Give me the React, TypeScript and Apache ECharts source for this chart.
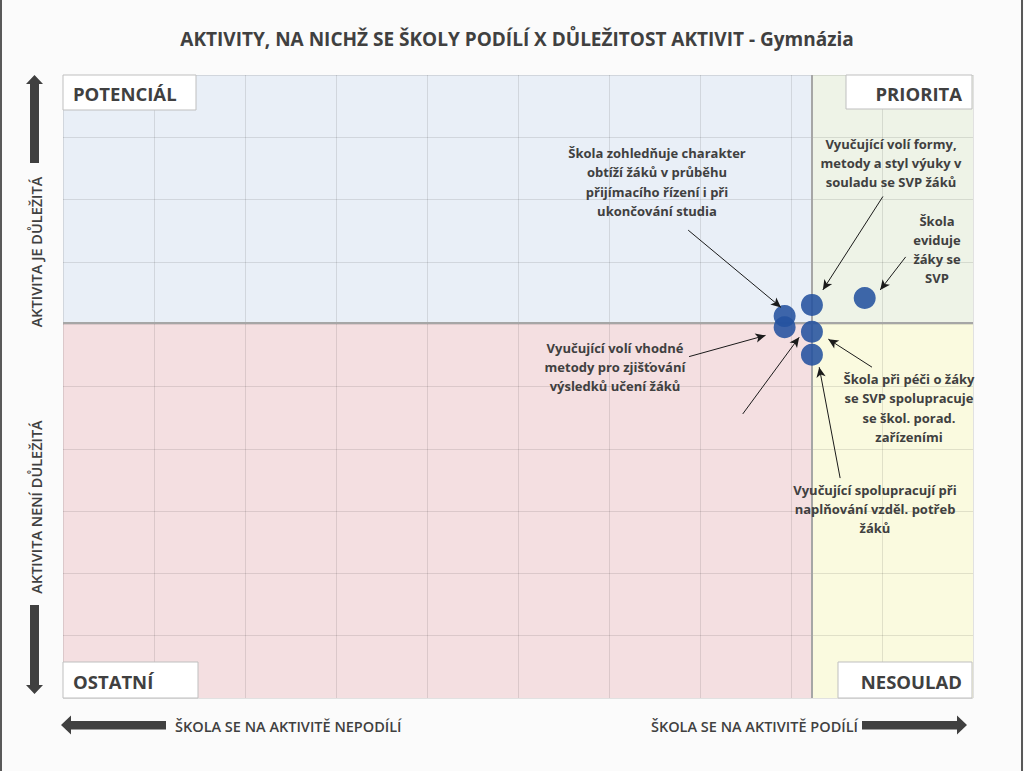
import { useEffect, useRef } from "react";
import * as echarts from "echarts";

// ---------- data ----------
const TITLE = "AKTIVITY, NA NICHŽ SE ŠKOLY PODÍLÍ X DŮLEŽITOST AKTIVIT - Gymnázia";
const X_MIN = 0;
const X_MAX = 100;
const X_STEP = 10;
const Y_MIN = 0;
const Y_MAX = 100;
const Y_STEP = 10;
const X_SPLIT = 82.3; // participation threshold
const Y_SPLIT = 60.3; // importance threshold

const activities = [
  "Škola zohledňuje charakter obtíží žáků v průběhu přijímacího řízení i při ukončování studia",
  "Vyučující volí vhodné metody pro zjišťování výsledků učení žáků",
  "Vyučující volí formy, metody a styl výuky v souladu se SVP žáků",
  "Škola při péči o žáky se SVP spolupracuje se škol. porad. zařízeními",
  "Vyučující spolupracují při naplňování vzděl. potřeb žáků",
  "Škola eviduje žáky se SVP",
];
const participation = [79.3, 79.3, 82.3, 82.3, 82.3, 88.1];
const importance = [61.3, 59.5, 63.1, 58.8, 55.1, 64.2];

const quadrantNames = ["POTENCIÁL", "PRIORITA", "OSTATNÍ", "NESOULAD"];
const axisTexts = [
  "AKTIVITA JE DŮLEŽITÁ",
  "AKTIVITA NENÍ DŮLEŽITÁ",
  "ŠKOLA SE NA AKTIVITĚ NEPODÍLÍ",
  "ŠKOLA SE NA AKTIVITĚ PODÍLÍ",
];

const annotationTexts = [
  "Škola zohledňuje charakter\nobtíží žáků v průběhu\npřijímacího řízení i při\nukončování studia",
  "Vyučující volí formy,\nmetody a styl výuky v\nsouladu se SVP žáků",
  "Škola\neviduje\nžáky se\nSVP",
  "Vyučující volí vhodné\nmetody pro zjišťování\nvýsledků učení žáků",
  "Škola při péči o žáky\nse SVP spolupracuje\nse škol. porad.\nzařízeními",
  "Vyučující spolupracují při\nnaplňování vzděl. potřeb\nžáků",
];
// annotation arrows in data units (from -> to)
const arrowFrom = [
  [68.7, 75.1],
  [90.1, 80.5],
  [92.6, 70.8],
  [68.8, 54.8],
  [74.7, 45.6],
  [88.9, 53.1],
  [85.4, 35.3],
];
const arrowTo = [
  [78.9, 62.7],
  [83.5, 65.5],
  [89.8, 65.5],
  [77.2, 58.2],
  [80.9, 57.9],
  [84.1, 57.6],
  [83.1, 53.1],
];

// ---------- layout ----------
const GRID = { left: 63, top: 75, width: 910, height: 623 };
const TEXT = "#404040";
const FONT = "'Open Sans', 'Noto Sans', sans-serif";

export default function App() {
  const ref = useRef<HTMLDivElement>(null);

  useEffect(() => {
    if (!ref.current) return;
    const chart = echarts.init(ref.current, null, { renderer: "svg" });

    const annPos = [
      [657, 182],
      [891, 163],
      [937, 249.5],
      [615, 367],
      [909, 408],
      [875, 509],
    ];

    const box = (x: number, y: number, w: number, h: number, text: string, right: boolean) => [
      {
        type: "rect",
        z: 100,
        shape: { x, y, width: w, height: h },
        style: { fill: "#FFFFFF", stroke: "#BFBFBF", lineWidth: 1 },
      },
      {
        type: "text",
        z: 101,
        style: {
          text,
          x: right ? x + w - 10 : x + 10,
          y: y + h / 2 + 1,
          align: right ? "right" : "left",
          verticalAlign: "middle",
          fill: TEXT,
          fontFamily: FONT,
          fontWeight: "bold",
          fontSize: 18.5,
        },
      },
    ];

    const arrowColor = "#404040";

    const elements: any[] = [
      // page side borders
      { type: "line", shape: { x1: 1, y1: 0, x2: 1, y2: 771 }, style: { stroke: "#595959", lineWidth: 2 } },
      { type: "line", shape: { x1: 1022, y1: 0, x2: 1022, y2: 771 }, style: { stroke: "#595959", lineWidth: 2 } },
      {
        type: "text",
        style: {
          text: TITLE,
          x: 517,
          y: 39,
          align: "center",
          verticalAlign: "middle",
          fill: TEXT,
          fontFamily: FONT,
          fontWeight: "bold",
          fontSize: 19,
        },
      },
      ...box(63, 75, 133, 35, quadrantNames[0], false),
      ...box(846, 75, 126, 34, quadrantNames[1], true),
      ...box(63, 662, 135, 36, quadrantNames[2], false),
      ...box(838, 662, 134, 36, quadrantNames[3], true),
      // vertical arrows
      {
        type: "polygon",
        shape: { points: [[30, 163], [30, 84], [26, 84], [34.5, 75], [43, 84], [39, 84], [39, 163]] },
        style: { fill: arrowColor },
      },
      {
        type: "polygon",
        shape: { points: [[30, 605], [30, 685], [26, 685], [34.5, 694], [43, 685], [39, 685], [39, 605]] },
        style: { fill: arrowColor },
      },
      // horizontal arrows
      {
        type: "polygon",
        shape: { points: [[166, 721], [71, 721], [71, 715.5], [61, 725], [71, 734.5], [71, 729.5], [166, 729.5]] },
        style: { fill: arrowColor },
      },
      {
        type: "polygon",
        shape: { points: [[862, 721], [957, 721], [957, 715.5], [967, 725], [957, 734.5], [957, 729.5], [862, 729.5]] },
        style: { fill: arrowColor },
      },
      {
        type: "text",
        rotation: Math.PI / 2,
        x: 36,
        y: 252,
        style: {
          text: axisTexts[0],
          x: 0,
          y: 0,
          align: "center",
          verticalAlign: "middle",
          fill: TEXT,
          fontFamily: FONT,
          fontWeight: 600,
          fontSize: 14.5,
        },
      },
      {
        type: "text",
        rotation: Math.PI / 2,
        x: 36,
        y: 507,
        style: {
          text: axisTexts[1],
          x: 0,
          y: 0,
          align: "center",
          verticalAlign: "middle",
          fill: TEXT,
          fontFamily: FONT,
          fontWeight: 600,
          fontSize: 14.5,
        },
      },
      {
        type: "text",
        style: {
          text: axisTexts[2],
          x: 175,
          y: 726,
          align: "left",
          verticalAlign: "middle",
          fill: TEXT,
          fontFamily: FONT,
          fontWeight: 600,
          fontSize: 14.5,
        },
      },
      {
        type: "text",
        style: {
          text: axisTexts[3],
          x: 858,
          y: 726,
          align: "right",
          verticalAlign: "middle",
          fill: TEXT,
          fontFamily: FONT,
          fontWeight: 600,
          fontSize: 14.5,
        },
      },
      ...annotationTexts.map((t, i) => ({
        type: "text",
        z: 50,
        style: {
          text: t,
          x: annPos[i][0],
          y: annPos[i][1],
          align: "center",
          verticalAlign: "middle",
          fill: TEXT,
          fontFamily: FONT,
          fontWeight: "bold",
          fontSize: 13,
          lineHeight: 19.3,
        },
      })),
    ];

    const splitLine = { show: true, lineStyle: { color: "rgba(0,0,0,0.1)", width: 1 } };

    chart.setOption({
      animation: false,
      backgroundColor: "#FBFBFB",
      grid: { ...GRID, containLabel: false },
      xAxis: {
        type: "value",
        min: X_MIN,
        max: X_MAX,
        interval: X_STEP,
        z: 2,
        axisLine: { show: false },
        axisTick: { show: false },
        axisLabel: { show: false },
        splitLine,
      },
      yAxis: {
        type: "value",
        min: Y_MIN,
        max: Y_MAX,
        interval: Y_STEP,
        z: 2,
        axisLine: { show: false },
        axisTick: { show: false },
        axisLabel: { show: false },
        splitLine,
      },
      graphic: { z: 10, elements },
      series: [
        {
          type: "scatter",
          name: "aktivity",
          z: 4,
          symbolSize: 22,
          itemStyle: { color: "#24529F", opacity: 0.88 },
          data: participation.map((x, i) => ({ name: activities[i], value: [x, importance[i]] })),
          markArea: {
            silent: true,
            z: 1,
            itemStyle: { borderWidth: 0 },
            data: [
              [{ coord: [X_MIN, Y_SPLIT], itemStyle: { color: "#E9EFF7" } }, { coord: [X_SPLIT, Y_MAX] }],
              [{ coord: [X_SPLIT, Y_SPLIT], itemStyle: { color: "#EEF3E7" } }, { coord: [X_MAX, Y_MAX] }],
              [{ coord: [X_MIN, Y_MIN], itemStyle: { color: "#F4DFE1" } }, { coord: [X_SPLIT, Y_SPLIT] }],
              [{ coord: [X_SPLIT, Y_MIN], itemStyle: { color: "#FAFADF" } }, { coord: [X_MAX, Y_SPLIT] }],
            ],
          },
          markLine: {
            silent: true,
            z: 3,
            symbol: ["none", "none"],
            label: { show: false },
            lineStyle: { color: "#A6A6A6", width: 2, type: "solid" },
            data: [{ xAxis: X_SPLIT }, { yAxis: Y_SPLIT }],
          },
        },
        {
          type: "line",
          name: "arrows",
          data: [],
          markLine: {
            silent: true,
            z: 6,
            symbol: ["none", "arrow"],
            symbolSize: [7, 10],
            label: { show: false },
            lineStyle: { color: "#1A1A1A", width: 1, type: "solid" },
            data: arrowFrom.map((f, i) => [{ coord: f }, { coord: arrowTo[i] }]),
          },
        },
      ],
    });

    return () => chart.dispose();
  }, []);

  return (
    <div
      ref={ref}
      style={{ position: "absolute", left: 0, top: 0, width: 1024, height: 771 }}
    />
  );
}
